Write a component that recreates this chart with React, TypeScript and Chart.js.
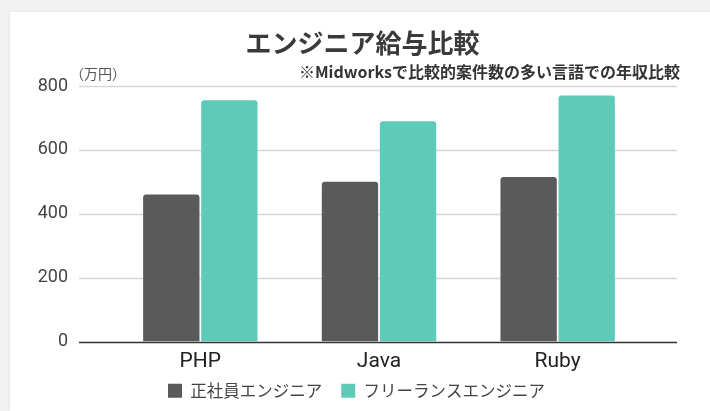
import React, { useEffect, useRef } from 'react';
import { Chart, registerables } from 'chart.js';

Chart.register(...registerables);

const categories = ['PHP', 'Java', 'Ruby'];
const seriesNames = ['正社員エンジニア', 'フリーランスエンジニア'];
const employeeSalary = [460, 500, 515];
const freelanceSalary = [755, 690, 770];
const yMin = 0;
const yMax = 800;
const yStep = 200;
const titleText = 'エンジニア給与比較';
const subtitleText = '※Midworksで比較的案件数の多い言語での年収比較';
const unitText = '（万円）';

const JP = '"Noto Sans CJK JP", "Noto Sans", sans-serif';
const NUM = 'Roboto, "Liberation Sans", Arial, sans-serif';

const gridPlugin = {
  id: 'extendedGrid',
  beforeDraw(chart: any) {
    // let the category labels extend below the axis box without being clipped
    if (chart.scales.x) chart.scales.x.bottom = chart.height;
  },
  beforeDatasetsDraw(chart: any) {
    const { ctx } = chart;
    const y = chart.scales.y;
    ctx.save();
    ctx.strokeStyle = '#d6d6d6';
    ctx.lineWidth = 1.5;
    y.ticks.forEach((t: any) => {
      if (t.value === 0) return;
      const py = Math.round(y.getPixelForValue(t.value)) + 0.5;
      ctx.beginPath();
      ctx.moveTo(79, py);
      ctx.lineTo(677, py);
      ctx.stroke();
    });
    ctx.restore();
  },
  afterDatasetsDraw(chart: any) {
    const { ctx } = chart;
    const y = chart.scales.y;
    const py = Math.round(y.getPixelForValue(0)) + 0.5;
    ctx.save();
    ctx.strokeStyle = '#333333';
    ctx.lineWidth = 1.5;
    ctx.beginPath();
    ctx.moveTo(79, py);
    ctx.lineTo(677, py);
    ctx.stroke();
    ctx.restore();
  },
};

const textPlugin = {
  id: 'headerTexts',
  afterDraw(chart: any) {
    const { ctx } = chart;
    ctx.save();
    ctx.textBaseline = 'middle';
    ctx.fillStyle = '#3a3a3a';
    ctx.font = `bold 26px ${JP}`;
    ctx.textAlign = 'center';
    ctx.fillText(titleText, 362.5, 43);
    ctx.fillStyle = '#333333';
    ctx.font = `bold 16px ${JP}`;
    ctx.textAlign = 'right';
    ctx.fillText(subtitleText, 680, 72);
    ctx.fillStyle = '#555555';
    ctx.font = `14px ${JP}`;
    ctx.textAlign = 'left';
    ctx.fillText(unitText, 70, 74);
    ctx.restore();
  },
};

export default function App() {
  const canvasRef = useRef<HTMLCanvasElement | null>(null);

  useEffect(() => {
    if (!canvasRef.current) return;
    const chart = new Chart(canvasRef.current, {
      type: 'bar',
      data: {
        labels: categories,
        datasets: [
          {
            label: seriesNames[0],
            data: employeeSalary,
            backgroundColor: '#5a5a5a',
            borderRadius: 3,
            borderWidth: 0,
            categoryPercentage: 0.65,
            barPercentage: 0.97,
          },
          {
            label: seriesNames[1],
            data: freelanceSalary,
            backgroundColor: '#5ecbb8',
            borderRadius: 3,
            borderWidth: 0,
            categoryPercentage: 0.65,
            barPercentage: 0.97,
          },
        ],
      },
      options: {
        responsive: false,
        maintainAspectRatio: false,
        animation: false,
        layout: { padding: { top: 86, right: 0, left: 3, bottom: 2 } },
        plugins: {
          title: { display: false },
          tooltip: { enabled: false },
          legend: {
            display: true,
            position: 'bottom',
            labels: {
              font: { family: JP, size: 16.5 },
              color: '#444444',
              boxWidth: 14,
              boxHeight: 14,
              padding: 19,
            },
          },
        },
        scales: {
          x: {
            grid: { display: false, drawTicks: false },
            border: { display: false },
            ticks: {
              font: { family: NUM, size: 21 },
              color: '#222222',
              padding: 8,
            },
            afterFit(s: any) {
              s.height = 22;
            },
          },
          y: {
            min: yMin,
            max: yMax,
            grid: { display: false, drawTicks: false },
            border: { display: false },
            ticks: {
              stepSize: yStep,
              font: { family: NUM, size: 18 },
              color: '#444444',
              padding: 43,
            },
            afterFit(s: any) {
              s.width = 108;
            },
          },
          rightSpace: {
            type: 'linear',
            position: 'right',
            display: true,
            grid: { display: false, drawTicks: false },
            border: { display: false },
            ticks: { display: false },
            afterFit(s: any) {
              s.width = 63;
            },
          },
        },
      },
      plugins: [gridPlugin, textPlugin],
    });
    return () => chart.destroy();
  }, []);

  return (
    <div
      style={{
        position: 'absolute',
        left: 0,
        top: 0,
        width: 710,
        height: 411,
        background: '#f1f1f1',
        overflow: 'hidden',
      }}
    >
      <div
        style={{
          position: 'absolute',
          left: 10,
          top: 12,
          right: 0,
          bottom: 0,
          background: '#ffffff',
          boxShadow: '0 0 4px rgba(0,0,0,0.06)',
        }}
      />
      <canvas
        ref={canvasRef}
        width={710}
        height={411}
        style={{ position: 'absolute', left: 0, top: 0, width: 710, height: 411, display: 'block' }}
      />
    </div>
  );
}
